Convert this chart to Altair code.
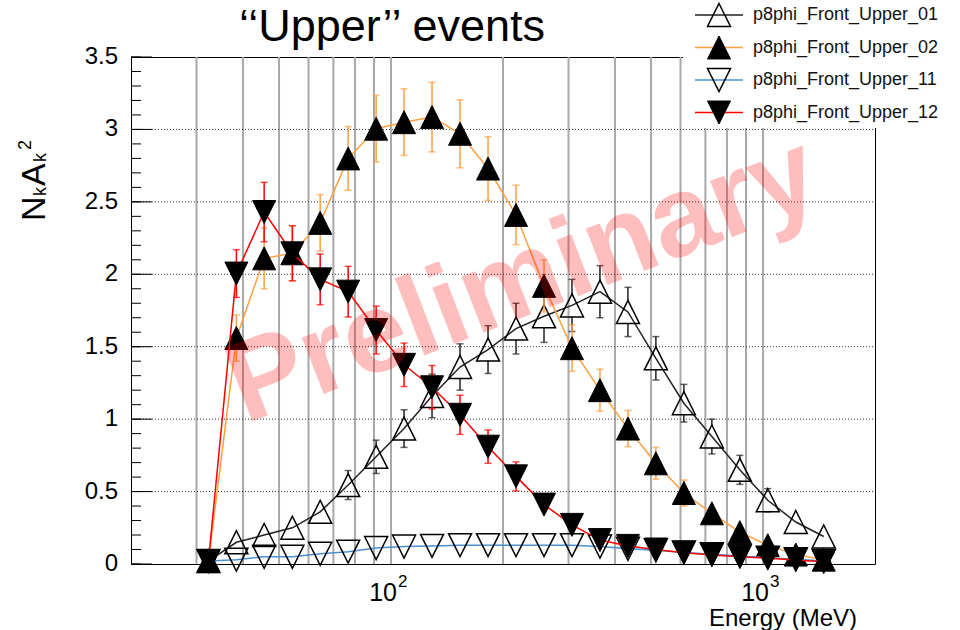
import altair as alt
import pandas as pd

# Bin centres in MeV (log-spaced)
energy = [32.3, 38.4, 45.6, 54.3, 64.5, 76.7, 91.2, 108.4, 128.9, 153.3, 182.3,
          216.8, 257.8, 306.5, 364.5, 433.4, 515.2, 612.7, 728.6, 866.3, 1030,
          1225, 1456]

upper_01 = [0.02, 0.15, 0.20, 0.25, 0.36, 0.545, 0.74, 0.935, 1.16, 1.36, 1.48,
            1.625, 1.71, 1.785, 1.88, 1.74, 1.42, 1.11, 0.88, 0.65, 0.44, 0.29, 0.19]
err_01 = [0.0, 0.03, 0.04, 0.05, 0.07, 0.10, 0.115, 0.13, 0.15, 0.16, 0.165,
          0.175, 0.18, 0.18, 0.18, 0.17, 0.15, 0.13, 0.12, 0.10, 0.08, 0.06, 0.04]

upper_02 = [0.02, 1.56, 2.11, 2.145, 2.355, 2.80, 3.005, 3.05, 3.085, 2.97, 2.73,
            2.41, 1.92, 1.49, 1.20, 0.935, 0.695, 0.49, 0.35, 0.22, 0.13, 0.065, 0.03]
err_02 = [0.0, 0.16, 0.21, 0.19, 0.195, 0.22, 0.23, 0.23, 0.24, 0.235, 0.22,
          0.205, 0.18, 0.16, 0.145, 0.125, 0.11, 0.09, 0.07, 0.055, 0.04, 0.03, 0.02]

upper_11 = [0.02, 0.03, 0.05, 0.05, 0.07, 0.085, 0.11, 0.12, 0.125, 0.13, 0.13,
            0.13, 0.13, 0.13, 0.12, 0.105, 0.095, 0.08, 0.067, 0.055, 0.044, 0.032, 0.02]
err_11 = [0.0, 0.005, 0.008, 0.01, 0.012, 0.014, 0.016, 0.017, 0.018, 0.018, 0.018,
          0.018, 0.018, 0.018, 0.017, 0.016, 0.015, 0.013, 0.012, 0.01, 0.009, 0.007, 0.005]

upper_12 = [0.02, 2.005, 2.43, 2.145, 1.965, 1.88, 1.615, 1.375, 1.22, 1.03, 0.81,
            0.605, 0.41, 0.27, 0.165, 0.125, 0.10, 0.078, 0.062, 0.05, 0.04, 0.028, 0.016]
err_12 = [0.0, 0.165, 0.205, 0.19, 0.175, 0.175, 0.165, 0.15, 0.15, 0.135, 0.115,
          0.10, 0.07, 0.05, 0.035, 0.03, 0.025, 0.02, 0.018, 0.015, 0.012, 0.01, 0.008]

series_names = ["p8phi_Front_Upper_01", "p8phi_Front_Upper_02",
                "p8phi_Front_Upper_11", "p8phi_Front_Upper_12"]

# Axis decoration values
x_grid = [30, 40, 50, 60, 70, 80, 90, 100, 200, 300, 400, 500, 600, 700, 800, 900, 1000]
x_label_pos = [100, 1000]
x_label_exp = ["2", "3"]
y_major = [0, 0.5, 1, 1.5, 2, 2.5, 3, 3.5]
y_minor = [round(i * 0.1, 1) for i in range(36)]

FONT = "Liberation Sans"
W, H = 744, 507
UP = "M0,-1L1,1L-1,1Z"
DOWN = "M-1,-1L1,-1L0,1Z"
MSIZE = 529
GAP = 0.076  # half marker height in data units: error bars stop at the marker edge

xs = alt.Scale(type="log", domain=[20, 2000], nice=False)
ys = alt.Scale(domain=[0, 3.5], nice=False)


def X(field="E"):
    return alt.X(f"{field}:Q", scale=xs, axis=None, title=None)


def Y(field="v"):
    return alt.Y(f"{field}:Q", scale=ys, axis=None, title=None)


layers = []

# vertical grid
layers.append(
    alt.Chart(pd.DataFrame({"E": x_grid}))
    .mark_rule(color="#a9a9a9", strokeWidth=2)
    .encode(x=X(), y=alt.value(0), y2=alt.value(H))
)
# horizontal dotted grid
layers.append(
    alt.Chart(pd.DataFrame({"v": y_major[1:-1]}))
    .mark_rule(color="#333333", strokeWidth=1, strokeDash=[1, 2])
    .encode(y=Y(), x=alt.value(0), x2=alt.value(W))
)
# y ticks (inward)
layers.append(
    alt.Chart(pd.DataFrame({"v": y_minor}))
    .mark_rule(color="black", strokeWidth=1)
    .encode(y=Y(), x=alt.value(0), x2=alt.value(10))
)
layers.append(
    alt.Chart(pd.DataFrame({"v": y_major}))
    .mark_rule(color="black", strokeWidth=1)
    .encode(y=Y(), x=alt.value(0), x2=alt.value(21))
)
# y tick labels
layers.append(
    alt.Chart(pd.DataFrame({"v": y_major, "lab": [str(v).rstrip("0").rstrip(".") if v else "0" for v in y_major]}))
    .mark_text(font=FONT, fontSize=24, align="right", baseline="middle", color="black")
    .encode(y=Y(), x=alt.value(-13), text="lab:N")
)
# x tick labels 10^n
lab_df = pd.DataFrame({"E": x_label_pos, "base": ["10", "10"], "exp": x_label_exp})
layers.append(
    alt.Chart(lab_df)
    .mark_text(font=FONT, fontSize=25, align="right", baseline="alphabetic", dx=6, color="black")
    .encode(x=X(), y=alt.value(544), text="base:N")
)
layers.append(
    alt.Chart(lab_df)
    .mark_text(font=FONT, fontSize=17, align="left", baseline="alphabetic", dx=7, color="black")
    .encode(x=X(), y=alt.value(530), text="exp:N")
)


def series(values, errors, color, shape, filled):
    df = pd.DataFrame({"E": energy, "v": values, "err": errors})
    base = alt.Chart(df).transform_calculate(
        lo="datum.v - datum.err", hi="datum.v + datum.err",
        up0=f"datum.v + {GAP}", dn0=f"datum.v - {GAP}",
    )
    errs = base.transform_filter(f"datum.err > {GAP}")
    out = [
        base.mark_line(color=color, strokeWidth=1.5).encode(x=X(), y=Y()),
        errs.mark_rule(color=color, strokeWidth=1.5).encode(x=X(), y=Y("up0"), y2="hi:Q"),
        errs.mark_rule(color=color, strokeWidth=1.5).encode(x=X(), y=Y("lo"), y2="dn0:Q"),
        errs.mark_tick(color=color, orient="horizontal", size=7, thickness=1.5).encode(x=X(), y=Y("hi")),
        errs.mark_tick(color=color, orient="horizontal", size=7, thickness=1.5).encode(x=X(), y=Y("lo")),
    ]
    if filled:
        pts = base.mark_point(shape=shape, size=MSIZE, filled=True, fill="black",
                              stroke="black", strokeWidth=1, opacity=1)
    else:
        pts = base.mark_point(shape=shape, size=MSIZE, filled=False, stroke="black",
                              strokeWidth=1.5, opacity=1)
    out.append(pts.encode(x=X(), y=Y()))
    return out


style = [
    ("#222222", UP, False),
    ("#ff9f40", UP, True),
    ("#4a8fcf", DOWN, False),
    ("#ff0000", DOWN, True),
]
data = [(upper_01, err_01), (upper_02, err_02), (upper_11, err_11), (upper_12, err_12)]
for (vals, errs), (col, shp, fil) in zip(data, style):
    layers += series(vals, errs, col, shp, fil)

# watermark
layers.append(
    alt.Chart(pd.DataFrame({"t": ["Preliminary"]}))
    .mark_text(font=FONT, fontWeight="bold", fontSize=114, angle=339, color="red",
               opacity=0.25, align="center", baseline="middle")
    .encode(x=alt.value(392), y=alt.value(224), text="t:N")
)

# legend box
layers.append(
    alt.Chart(pd.DataFrame({"a": [0]}))
    .mark_rect(fill="white")
    .encode(x=alt.value(552), x2=alt.value(W + 90), y=alt.value(-57), y2=alt.value(71))
)
for i, (name, (col, shp, fil)) in enumerate(zip(series_names, style)):
    ry = -42 + i * 32.5
    one = alt.Chart(pd.DataFrame({"name": [name]}))
    layers.append(one.mark_rule(color=col, strokeWidth=1.5)
                  .encode(x=alt.value(564), x2=alt.value(612), y=alt.value(ry)))
    if fil:
        mk = one.mark_point(shape=shp, size=MSIZE, filled=True, fill="black", stroke="black",
                            strokeWidth=1, opacity=1)
    else:
        mk = one.mark_point(shape=shp, size=MSIZE, filled=False, stroke="black",
                            strokeWidth=1.5, opacity=1)
    layers.append(mk.encode(x=alt.value(588), y=alt.value(ry)))
    layers.append(one.mark_text(font=FONT, fontSize=18, align="left", baseline="middle", color="#111")
                  .encode(x=alt.value(622), y=alt.value(ry), text="name:N"))

# title
layers.append(
    alt.Chart(pd.DataFrame({"t": ["\u2018\u2018Upper\u2019\u2019 events"]}))
    .mark_text(font=FONT, fontSize=45, align="center", baseline="alphabetic", color="black")
    .encode(x=alt.value(261), y=alt.value(-16), text="t:N")
)

# y axis title N_k A_k^2, rotated pieces laid out bottom to top
ytitle = [("N", -86, 164, 34), ("k", -85, 139, 18), ("A", -86, 129, 34),
          ("k", -85, 105, 18), ("2", -100, 93, 18)]
for txt, px, py, fs in ytitle:
    layers.append(
        alt.Chart(pd.DataFrame({"t": [txt]}))
        .mark_text(font=FONT, fontSize=fs, angle=270, align="left", baseline="alphabetic", color="black")
        .encode(x=alt.value(px), y=alt.value(py), text="t:N")
    )

# x axis title
layers.append(
    alt.Chart(pd.DataFrame({"t": ["Energy (MeV)"]}))
    .mark_text(font=FONT, fontSize=24, align="right", baseline="alphabetic", color="black")
    .encode(x=alt.value(726), y=alt.value(569), text="t:N")
)

chart = (
    alt.layer(*layers)
    .properties(width=W, height=H, autosize=alt.AutoSizeParams(type="none"),
                padding={"left": 131, "top": 57, "right": 85, "bottom": 66},
                background="white")
    .configure_view(stroke="black", strokeWidth=1)
)

chart.save("out.html", embed_options={"renderer": "svg", "actions": False})
